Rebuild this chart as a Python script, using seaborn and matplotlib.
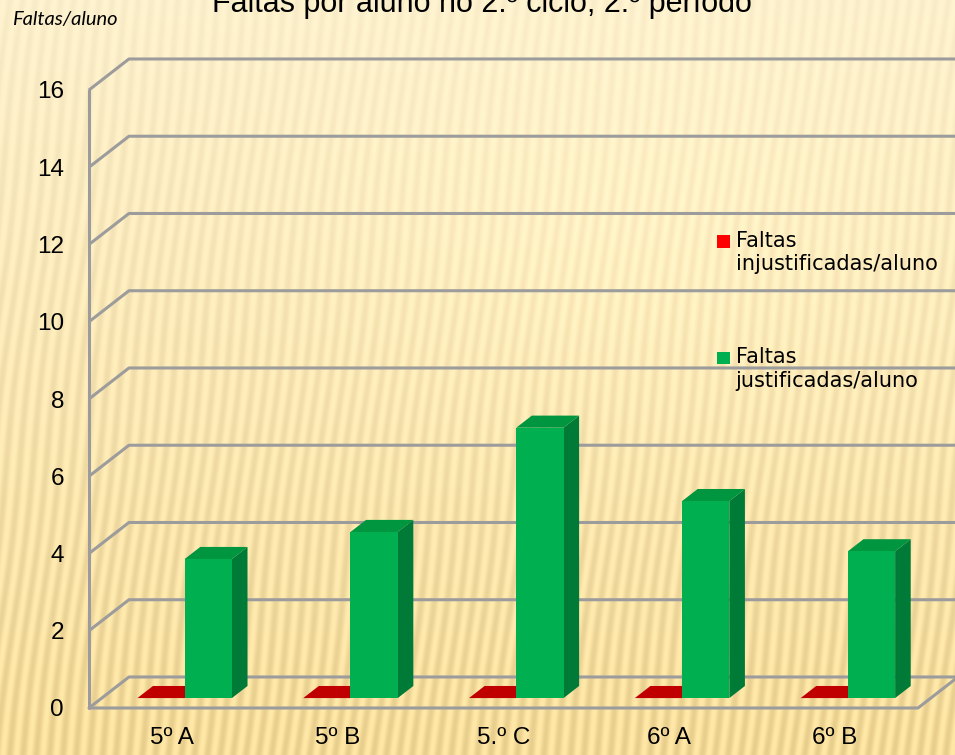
import numpy as np
import pandas as pd
import matplotlib
matplotlib.use("Agg")
import matplotlib.pyplot as plt
from matplotlib.patches import Polygon, Rectangle
from matplotlib.legend_handler import HandlerPatch
import seaborn as sns

# data
turmas = ["5º A", "5º B", "5.º C", "6º A", "6º B"]
injustificadas = [0, 0, 0, 0, 0]
justificadas = [3.6, 4.3, 7.0, 5.1, 3.8]
series = ["Faltas\ninjustificadas/aluno", "Faltas\njustificadas/aluno"]
yticks = [0, 2, 4, 6, 8, 10, 12, 14, 16]

df = pd.DataFrame({
    "turma": turmas * 2,
    "valor": injustificadas + justificadas,
    "serie": [series[0]] * 5 + [series[1]] * 5,
})

sns.set_style("white")
plt.rcParams["font.family"] = ["Liberation Sans", "DejaVu Sans"]
plt.rcParams["text.color"] = "black"
plt.rcParams["xtick.color"] = "black"
plt.rcParams["ytick.color"] = "black"

W, H = 955, 755
fig = plt.figure(figsize=(W / 100, H / 100), dpi=100)

# textured beige background
bg = fig.add_axes([0, 0, 1, 1], zorder=-5)
yy, xx = np.mgrid[0:H, 0:W]
phase = 2 * np.pi * (xx + 0.12 * yy) / 13.0 + 0.9 * np.sin(yy / 50.0 + xx / 80.0)
stripes = np.sin(phase)
glow = np.exp(-(((xx - 640) / 330.0) ** 2 + ((yy - 250) / 200.0) ** 2))
t = np.clip(yy / H, 0, 1)
top = np.array([0.99, 0.94, 0.80])
bot = np.array([0.96, 0.86, 0.60])
img = top[None, None, :] * (1 - t[..., None]) + bot[None, None, :] * t[..., None]
img = img + 0.035 * stripes[..., None] * (0.5 + t[..., None]) + 0.025 * glow[..., None]
bg.imshow(np.clip(img, 0, 1), aspect="auto", extent=[0, 1, 0, 1])
bg.axis("off")

# front plane of the 3D box
ax = fig.add_axes([89 / W, (H - 708) / H, 829 / W, 618 / H])
ax.set_facecolor("none")

sns.barplot(data=df, x="turma", y="valor", hue="serie",
            palette=["#FF0000", "#00B050"], width=0.57, saturation=1,
            errorbar=None, ax=ax, linewidth=0)

ax.set_xlim(-0.5, 4.5)
ax.set_ylim(0, 16)
ax.set_yticks(yticks)

# depth of the box in data units
dx = 40 / 166.0
dy = 31 / 38.6
grid_c = "#9C9C9C"

x0, x1 = -0.5, 4.5
for v in yticks:
    ax.plot([x0, x0 + dx, x1 + dx + 0.5], [v, v + dy, v + dy],
            color=grid_c, lw=2.2, clip_on=False, zorder=1, solid_capstyle="butt")
ax.plot([x0, x1, x1 + dx], [0, 0, dy], color=grid_c, lw=2.2, clip_on=False, zorder=1)
ax.plot([x0, x0], [0, 16], color=grid_c, lw=2.2, clip_on=False, zorder=1)

# 3D faces of the bars
f0 = 0.32 * dx, 0.32 * dy
dd = 0.39 * dx, 0.39 * dy
side_cols = ["#A00000", "#007A37"]
top_cols = ["#C00000", "#00953F"]
z = 3
for i in range(len(turmas)):
    for k, cont in enumerate(ax.containers):
        p = cont.patches[i]
        p.set_x(p.get_x() + f0[0])
        p.set_y(p.get_y() + f0[1])
        p.set_zorder(z + 2)
        bx0, by0 = p.get_x(), p.get_y()
        bx1, by1 = bx0 + p.get_width(), by0 + p.get_height()
        side = Polygon([(bx1, by0), (bx1 + dd[0], by0 + dd[1]),
                        (bx1 + dd[0], by1 + dd[1]), (bx1, by1)],
                       closed=True, fc=side_cols[k], lw=0, zorder=z)
        topf = Polygon([(bx0, by1), (bx0 + dd[0], by1 + dd[1]),
                        (bx1 + dd[0], by1 + dd[1]), (bx1, by1)],
                       closed=True, fc=top_cols[k], lw=0, zorder=z + 1)
        ax.add_patch(side)
        ax.add_patch(topf)
        z += 3

for s in ax.spines.values():
    s.set_visible(False)
ax.set_xlabel("")
ax.set_ylabel("")
ax.tick_params(axis="y", length=0, pad=18, labelsize=17.5)
ax.tick_params(axis="x", length=0, pad=14, labelsize=17.5)


# small square next to the first line of each legend label
def top_square(legend, orig_handle, xdescent, ydescent, width, height, fontsize):
    s = 0.6 * fontsize
    return Rectangle((-xdescent, -ydescent + height - s - 0.05 * fontsize), width, s)


handles = ax.get_legend().legend_handles
ax.get_legend().remove()
fig.legend(handles, series, loc="upper left", bbox_to_anchor=(717 / W, 1 - 231 / H),
           frameon=False, handlelength=0.6, handleheight=2.6,
           handletextpad=0.3, labelspacing=3.5, borderaxespad=0, borderpad=0,
           handler_map={h: HandlerPatch(patch_func=top_square) for h in handles},
           prop={"family": "DejaVu Sans", "size": 15})

fig.text(482 / W, 1 - 12 / H, "Faltas por aluno no 2.º ciclo, 2.º período",
         ha="center", va="baseline", fontsize=22)
fig.text(12 / W, 1 - 20 / H, "Faltas/aluno", ha="left", va="center",
         fontsize=14.5, style="italic", family=["Lato", "DejaVu Sans"])

fig.savefig("out.png", dpi=100)
